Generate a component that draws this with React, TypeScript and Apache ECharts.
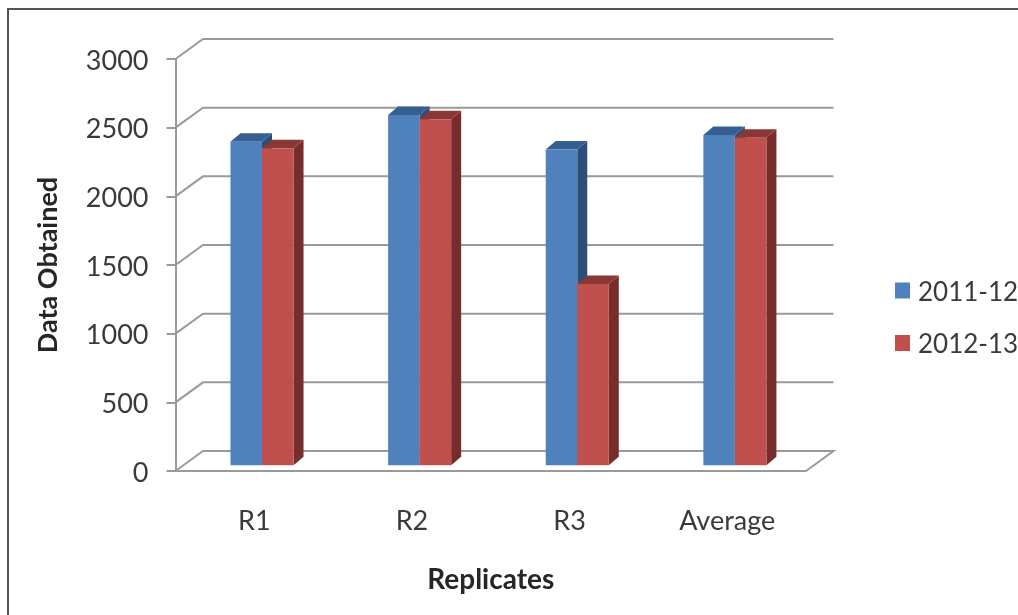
import React, { useEffect, useRef } from "react";
import * as echarts from "echarts";

const categories = ["R1", "R2", "R3", "Average"];
const series2011 = [2356, 2550, 2300, 2405];
const series2012 = [2308, 2520, 1320, 2385];
const yTicks = [0, 500, 1000, 1500, 2000, 2500, 3000];

const FONT = "Lato, 'Open Sans', sans-serif";
const TEXT = "#3a3a3a";
const GRID = "#9a9a9a";
const WALL_DX = 27.5;
const WALL_DY = -20;
const BAR_DX = 10;
const BAR_DY = -8.5;
const BAR_SHIFT_X = 7.7;
const BAR_SHIFT_Y = -5.7;

function wallItem(params: any, api: any) {
  const v = api.value(0);
  const g = params.coordSys;
  const y = api.coord([0, v])[1];
  const left = g.x;
  const right = g.x + g.width;
  const points =
    v === 0
      ? [
          [left, y],
          [left + WALL_DX, y + WALL_DY],
          [right + WALL_DX, y + WALL_DY],
          [right, y],
        ]
      : [
          [left, y],
          [left + WALL_DX, y + WALL_DY],
          [right + WALL_DX, y + WALL_DY],
        ];
  return {
    type: "polyline",
    shape: { points },
    style: { stroke: GRID, lineWidth: 2, fill: "none" },
    silent: true,
  };
}

function barRenderer(slot: number, front: string, top: string, side: string) {
  return (_params: any, api: any) => {
    const cat = api.value(0);
    const val = api.value(1);
    const [cx, yTop0] = api.coord([cat, val]);
    const y0 = api.coord([cat, 0])[1] + BAR_SHIFT_Y;
    const yTop = yTop0 + BAR_SHIFT_Y;
    const w = api.size([1, 0])[0] * 0.2;
    const x1 = cx + BAR_SHIFT_X - w + slot * w;
    const x2 = x1 + w;
    return {
      type: "group",
      children: [
        {
          type: "polygon",
          shape: {
            points: [
              [x2, yTop],
              [x2 + BAR_DX, yTop + BAR_DY],
              [x2 + BAR_DX, y0 + BAR_DY],
              [x2, y0],
            ],
          },
          style: { fill: side },
        },
        {
          type: "polygon",
          shape: {
            points: [
              [x1, yTop],
              [x1 + BAR_DX, yTop + BAR_DY],
              [x2 + BAR_DX, yTop + BAR_DY],
              [x2, yTop],
            ],
          },
          style: { fill: top },
        },
        {
          type: "rect",
          shape: { x: x1, y: yTop, width: w, height: y0 - yTop },
          style: { fill: front },
        },
      ],
    };
  };
}

export default function App() {
  const ref = useRef<HTMLDivElement>(null);
  useEffect(() => {
    const chart = echarts.init(ref.current!, undefined, { renderer: "svg" });
    chart.setOption({
      animation: false,
      backgroundColor: "#ffffff",
      textStyle: { fontFamily: FONT },
      grid: { left: 175.5, top: 59, width: 630.5, height: 412 },
      legend: {
        left: 890,
        top: 272.5,
        orient: "vertical",
        data: ["2011-12", "2012-13"],
        icon: "rect",
        itemWidth: 15,
        itemHeight: 16,
        itemGap: 26.5,
        textStyle: { color: TEXT, fontSize: 26, fontFamily: FONT, padding: [0, 0, 0, 3] },
      },
      xAxis: {
        type: "category",
        data: categories,
        name: "Replicates",
        nameLocation: "middle",
        nameGap: 93,
        nameTextStyle: { color: "#262626", fontSize: 28, fontWeight: "bold", fontFamily: FONT },
        axisLine: { show: true, lineStyle: { color: GRID, width: 2 } },
        axisTick: { show: false },
        axisLabel: { color: TEXT, fontSize: 27, margin: 34.5, fontFamily: FONT },
        splitLine: { show: false },
      },
      yAxis: {
        type: "value",
        min: 0,
        max: 3000,
        interval: 500,
        name: "Data Obtained",
        nameLocation: "middle",
        nameGap: 116,
        nameTextStyle: { color: "#262626", fontSize: 27, fontWeight: "bold", fontFamily: FONT },
        axisLine: { show: true, lineStyle: { color: GRID, width: 2 } },
        axisTick: { show: true, length: 9, lineStyle: { color: GRID, width: 2 } },
        axisLabel: {
          color: TEXT,
          fontSize: 27,
          margin: 27,
          fontFamily: FONT,
          padding: [5, 0, 0, 0],
          formatter: (v: number) => String(v),
        },
        splitLine: { show: false },
      },
      graphic: [
        {
          type: "polyline",
          silent: true,
          z: -1,
          shape: { points: [[8, 615], [8, 9], [1018, 9]] },
          style: { stroke: "#555555", lineWidth: 2, fill: "none" },
        },
      ],
      series: [
        {
          type: "custom",
          name: "walls",
          coordinateSystem: "cartesian2d",
          data: yTicks.map((v) => [v]),
          encode: { y: 0 },
          clip: false,
          z: 1,
          silent: true,
          renderItem: wallItem,
        },
        {
          type: "custom",
          name: "2011-12",
          coordinateSystem: "cartesian2d",
          data: series2011.map((v, i) => [i, v]),
          encode: { x: 0, y: 1 },
          clip: false,
          z: 2,
          itemStyle: { color: "#4f81bd" },
          renderItem: barRenderer(0, "#4f81bd", "#365f91", "#2c4f79"),
        },
        {
          type: "custom",
          name: "2012-13",
          coordinateSystem: "cartesian2d",
          data: series2012.map((v, i) => [i, v]),
          encode: { x: 0, y: 1 },
          clip: false,
          z: 3,
          itemStyle: { color: "#c0504d" },
          renderItem: barRenderer(1, "#c0504d", "#8a3836", "#772d2b"),
        },
      ],
    });
    return () => chart.dispose();
  }, []);
  return (
    <div
      ref={ref}
      style={{ position: "fixed", left: 0, top: 0, width: 1018, height: 615, filter: "blur(0.6px)" }}
    />
  );
}
